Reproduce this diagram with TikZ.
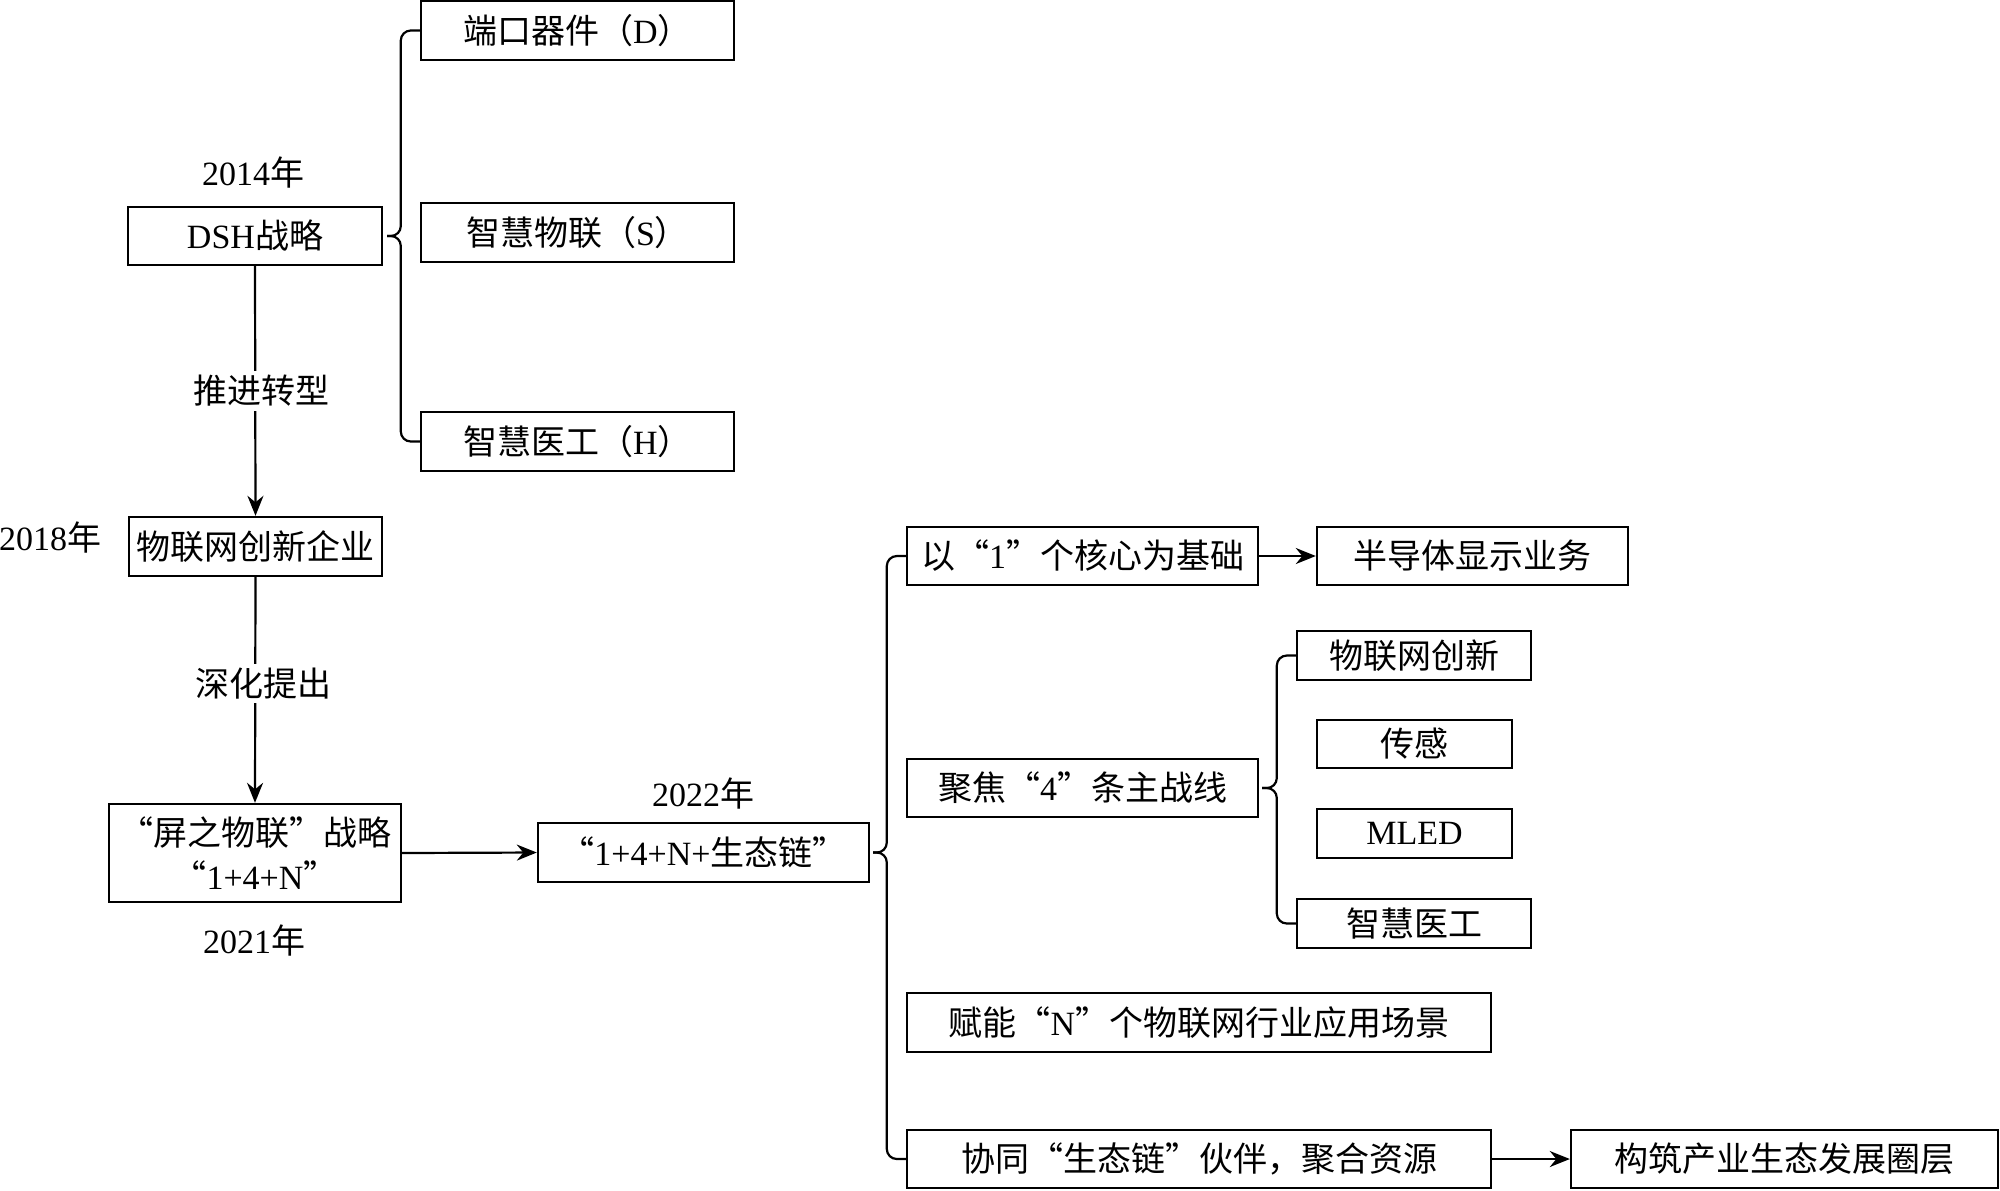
\documentclass[tikz,border=0pt]{standalone}
\usepackage{fontspec}
\setmainfont{Liberation Serif}
\newfontfamily\cjk{Noto Sans CJK SC}
\newcommand\lat[1]{{\rmfamily #1}}
\usetikzlibrary{arrows.meta,calc}
\begin{document}
\begin{tikzpicture}[x=0.5pt,y=-0.5pt,
  txt/.style={font=\cjk\fontsize{17pt}{22pt}\selectfont},
  box/.style={txt, draw, line width=1.2pt, inner sep=0pt, align=center},
  wh/.style 2 args={minimum width={#1*0.5pt}, minimum height={#2*0.5pt}},
  lbl/.style={txt, inner sep=2pt},
  arr/.style={line width=1.1pt, -{Stealth[length=10pt,width=8pt]}},
  brc/.style={line width=1.1pt, rounded corners=5pt}]
\useasboundingbox (0,0) rectangle (2000,1190);
\fill[white] (0,0) rectangle (2000,1190);

% left column
\node[box, wh={254}{58}] (dsh) at (255,236) {\lat{DSH}战略};
\node[box, wh={313}{59}] (d) at (577.5,30.5) {端口器件（\lat{D}）};
\node[box, wh={313}{59}] (s) at (577.5,232.5) {智慧物联（\lat{S}）};
\node[box, wh={313}{59}] (h) at (577.5,441.5) {智慧医工（\lat{H}）};
\node[box, wh={253}{59}] (qy) at (255.5,546.5) {物联网创新企业};
\node[box, wh={292}{98}] (pz) at (255,853) {“屏之物联”战略\\“\lat{1+4+N}”};
\node[box, wh={331}{59}] (n) at (703.5,852.5) {“\lat{1+4+N+}生态链”};

% year labels
\node[lbl] (y14) at (253,173) {\lat{2014}年};
\node[lbl] (y18) at (50,537) {\lat{2018}年};
\node[lbl] (y21) at (254,940) {\lat{2021}年};
\node[lbl] (y22) at (703,793) {\lat{2022}年};

% right part
\node[box, wh={351}{58}] (yi1) at (1082.5,556) {以“\lat{1}”个核心为基础};
\node[box, wh={311}{58}] (bd) at (1472.5,556) {半导体显示业务};
\node[box, wh={351}{58}] (jj) at (1082.5,788) {聚焦“\lat{4}”条主战线};
\node[box, wh={234}{49}] (wl) at (1414,655.5) {物联网创新};
\node[box, wh={195}{48}] (cg) at (1414.5,744) {传感};
\node[box, wh={195}{49}] (ml) at (1414.5,833.5) {\lat{MLED}};
\node[box, wh={234}{49}] (zh) at (1414,923.5) {智慧医工};
\node[box, wh={584}{59}] (fn) at (1199,1022.5) {赋能“\lat{N}”个物联网行业应用场景};
\node[box, wh={584}{58}] (xt) at (1199,1159) {协同“生态链”伙伴，聚合资源};
\node[box, wh={427}{58}] (gz) at (1784.5,1159) {构筑产业生态发展圈层};

% arrows
\draw[arr] (dsh.south) -- node[lbl, fill=white, xshift=3pt] (tj) {推进转型} (qy.north);
\draw[arr] (qy.south) -- node[lbl, fill=white, pos=0.47, xshift=4pt] (sh) {深化提出} (pz.north);
\draw[arr] (pz.east) -- (n.west);
\draw[arr] (yi1.east) -- (bd.west);
\draw[arr] (xt.east) -- (gz.west);

% braces
\draw[brc] (d.west) -- ++(-19,0) |- ($(dsh.east)+(4,0)$);
\draw[brc] (h.west) -- ++(-19,0) |- ($(dsh.east)+(4,0)$);
\draw[brc] (yi1.west) -- ++(-19,0) |- ($(n.east)+(3,0)$);
\draw[brc] (xt.west) -- ++(-19,0) |- ($(n.east)+(3,0)$);
\draw[brc] (wl.west) -- ++(-19,0) |- ($(jj.east)+(3,0)$);
\draw[brc] (zh.west) -- ++(-19,0) |- ($(jj.east)+(3,0)$);
\end{tikzpicture}
\end{document}
